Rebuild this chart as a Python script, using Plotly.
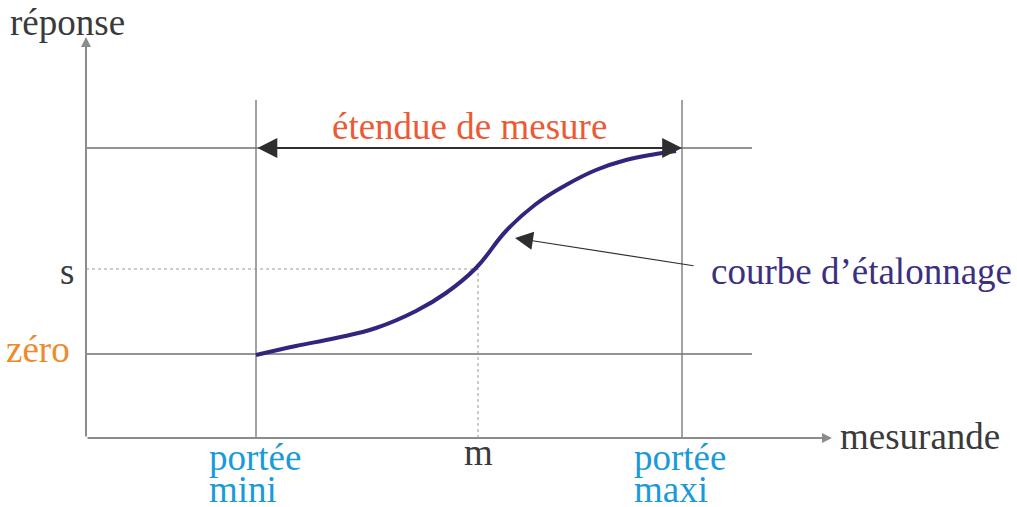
import plotly.graph_objects as go

# ---- data (arbitrary units; origin = corner of the axes) ----
curve_x = [17.0, 21.0, 25.0, 29.0, 33.0, 36.0, 39.0, 42.0, 45.0, 48.0, 51.0, 54.0, 57.0, 59.0]
curve_y = [8.3, 9.2, 10.0, 11.0, 12.7, 14.5, 17.0, 20.7, 23.4, 25.3, 26.8, 27.8, 28.4, 28.7]

x_mini = 17.0      # portée mini
x_m = 39.2         # m
x_maxi = 59.6      # portée maxi
y_zero = 8.4       # zéro
y_s = 16.9         # s
y_max = 29.0       # top of measuring range

x_axis_end = 74.6
y_axis_end = 40.1
guide_right = 66.6
vline_top = 33.8

FONT = "Liberation Serif"
TXT = "#3a3a3a"
GRAY = "#8c8c8c"
DARK = "#2e2e2e"

fig = go.Figure()

def seg(x, y, color, width, dash="solid"):
    fig.add_trace(go.Scatter(x=x, y=y, mode="lines", hoverinfo="skip",
                             line=dict(color=color, width=width, dash=dash),
                             showlegend=False))

# guide lines
seg([x_mini, x_mini], [0, vline_top], GRAY, 1.6)
seg([x_maxi, x_maxi], [0, vline_top], GRAY, 1.6)
seg([0, guide_right], [y_zero, y_zero], "#707070", 1.5)
seg([0, guide_right], [y_max, y_max], "#707070", 1.5)
seg([0, x_m], [y_s, y_s], "#9a9a9a", 1, "dot")
seg([x_m, x_m], [0, y_s], "#9a9a9a", 1, "dot")

# calibration curve
fig.add_trace(go.Scatter(x=curve_x, y=curve_y, mode="lines", hoverinfo="skip",
                         line=dict(color="#35247e", width=4, shape="spline", smoothing=1.2),
                         showlegend=False))

ann = []
def arrow(x, y, ax, ay, color, width, size, side="end"):
    ann.append(dict(x=x, y=y, ax=ax, ay=ay, xref="x", yref="y", axref="x", ayref="y",
                    text="", showarrow=True, arrowhead=2, arrowsize=size,
                    arrowwidth=width, arrowcolor=color, arrowside=side,
                    startarrowhead=2, startarrowsize=size))

# axes with arrows
arrow(x_axis_end, 0, 0, 0, GRAY, 2, 1.0)
arrow(0, y_axis_end, 0, 0, GRAY, 2, 1.0)
# arrowheads drawn dark over axes
arrow(x_axis_end, 0, x_axis_end - 0.5, 0, DARK, 2, 2.6)
arrow(0, y_axis_end, 0, y_axis_end - 0.5, DARK, 2, 2.6)

# measuring range double arrow
arrow(x_maxi, y_max, x_mini, y_max, DARK, 1.8, 2.2, "end+start")

# annotation pointer for the curve
arrow(42.9, 20.0, 60.9, 17.2, DARK, 1.2, 3.0)

def label(x, y, text, color, xanchor="left", yanchor="middle", size=37):
    ann.append(dict(x=x, y=y, xref="x", yref="y", text=text, showarrow=False,
                    xanchor=xanchor, yanchor=yanchor, align="left",
                    font=dict(family=FONT, size=size, color=color)))

label(-7.8, 41.6, "réponse", TXT)
label(x_axis_end + 0.6, 0.2, "mesurande", TXT)
label((x_mini + x_maxi) / 2, y_max + 2.2, "étendue de mesure", "#ec5a35", "center")
label(-1.0, y_s - 0.2, "s", TXT, "right")
label(-1.4, y_zero + 0.5, "zéro", "#ef8a2a", "right")
label(x_m, -1.4, "m", TXT, "center")
label(x_mini - 4.9, -1.9, "portée", "#1a9ad8")
label(x_mini - 4.9, -5.1, "mini", "#1a9ad8")
label(x_maxi - 5.0, -1.9, "portée", "#1a9ad8")
label(x_maxi - 5.0, -5.1, "maxi", "#1a9ad8")
label(62.3, y_s - 0.2, "courbe d’étalonnage", "#3d2f80")

fig.update_layout(
    width=1017, height=507,
    margin=dict(l=0, r=0, t=0, b=0),
    paper_bgcolor="white", plot_bgcolor="white",
    xaxis=dict(range=[-8.6, 93.1], visible=False, fixedrange=True),
    yaxis=dict(range=[-6.9, 43.8], visible=False, fixedrange=True),
    annotations=ann,
    showlegend=False,
)

fig.write_html("out.html", config={"displayModeBar": False},
               post_script="document.body.style.margin='0';document.body.style.overflow='hidden';")
